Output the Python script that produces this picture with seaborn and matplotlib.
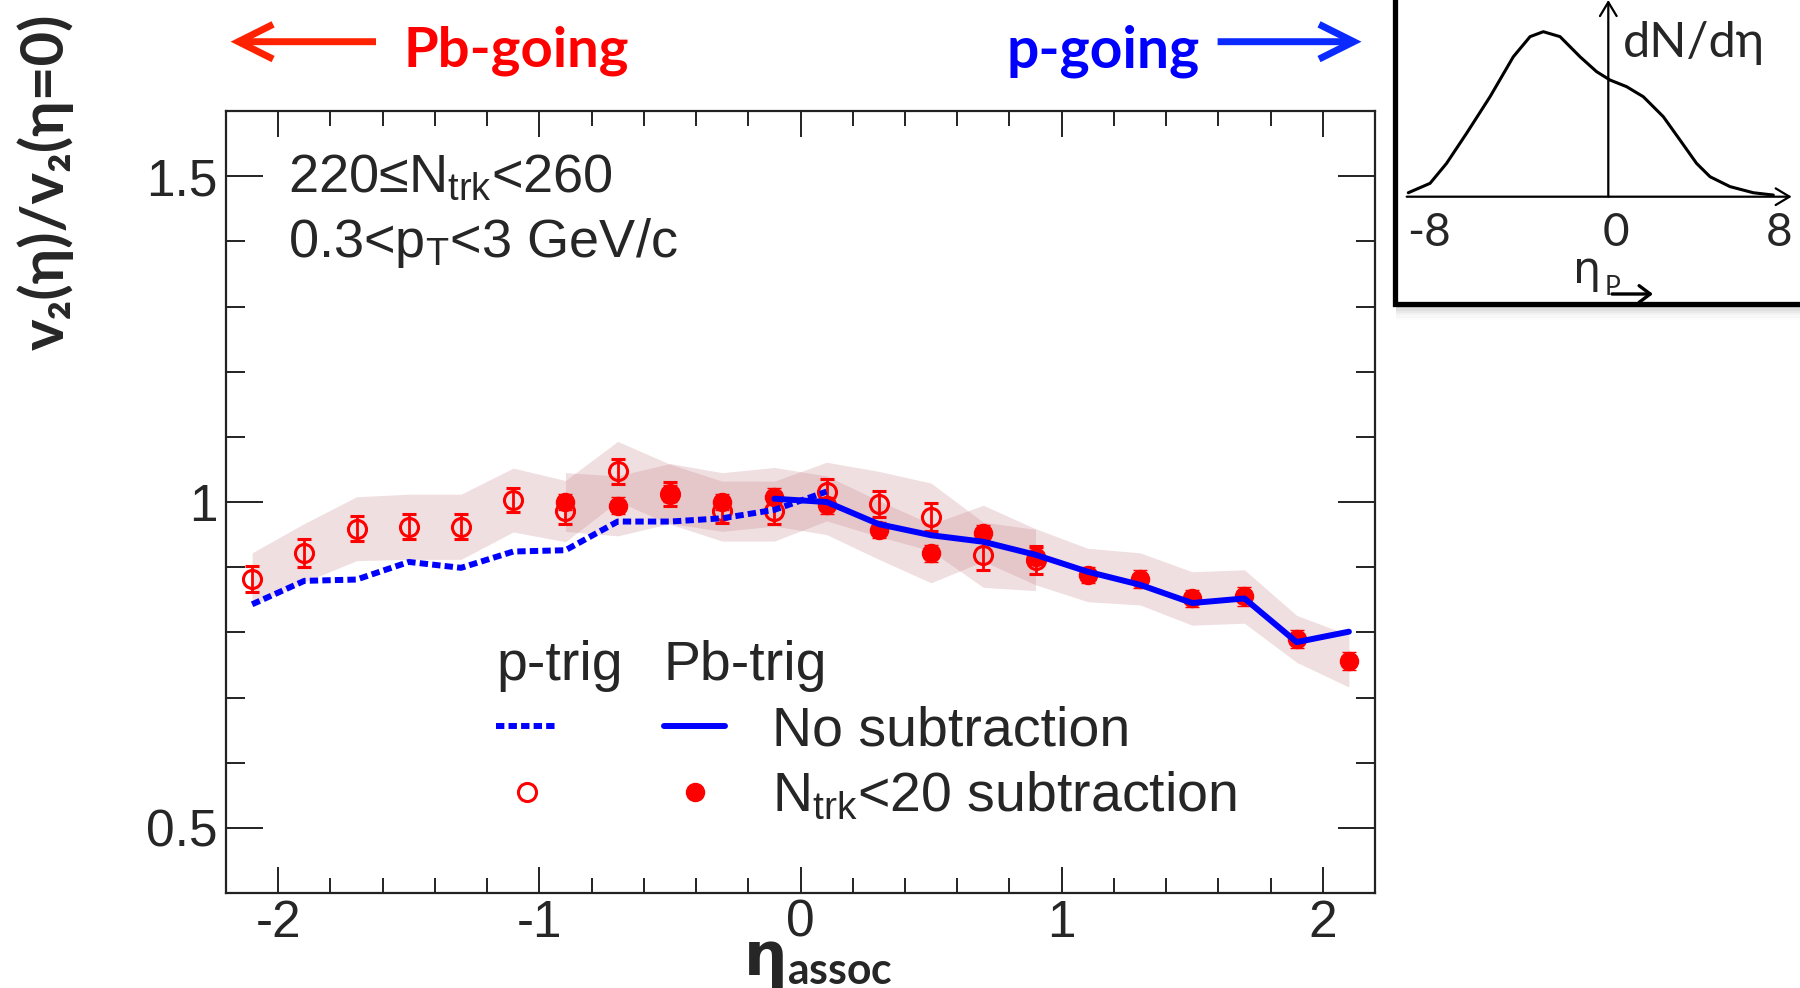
import numpy as np
import pandas as pd
import matplotlib
matplotlib.use("Agg")
import matplotlib.pyplot as plt
import seaborn as sns
from matplotlib.lines import Line2D
from matplotlib.patches import Rectangle, FancyArrowPatch
from matplotlib.ticker import MultipleLocator, FixedLocator, FixedFormatter

# ---------------- data ----------------
eta_p = [-2.1, -1.9, -1.7, -1.5, -1.3, -1.1, -0.9, -0.7, -0.5, -0.3, -0.1, 0.1, 0.3, 0.5, 0.7, 0.9]
p_sub = [0.882, 0.922, 0.959, 0.962, 0.962, 1.003, 0.986, 1.047, 1.012, 0.986, 0.986, 1.016, 0.997, 0.977, 0.919, 0.911]
p_stat = [0.020, 0.021, 0.019, 0.019, 0.019, 0.019, 0.020, 0.019, 0.018, 0.018, 0.019, 0.020, 0.020, 0.021, 0.023, 0.022]
p_sys = [0.040, 0.045, 0.049, 0.050, 0.050, 0.049, 0.047, 0.046, 0.046, 0.046, 0.046, 0.045, 0.050, 0.052, 0.050, 0.047]

eta_p_nosub = [-2.1, -1.9, -1.7, -1.5, -1.3, -1.1, -0.9, -0.7, -0.5, -0.3, -0.1, 0.1]
p_nosub = [0.843, 0.879, 0.881, 0.908, 0.899, 0.924, 0.926, 0.970, 0.970, 0.975, 0.988, 1.016]

eta_pb = [-0.9, -0.7, -0.5, -0.3, -0.1, 0.1, 0.3, 0.5, 0.7, 0.9, 1.1, 1.3, 1.5, 1.7, 1.9, 2.1]
pb_sub = [1.000, 0.994, 1.013, 1.000, 1.008, 0.995, 0.957, 0.921, 0.952, 0.916, 0.888, 0.882, 0.852, 0.855, 0.790, 0.756]
pb_stat = [0.013, 0.013, 0.013, 0.013, 0.013, 0.013, 0.013, 0.013, 0.013, 0.013, 0.013, 0.014, 0.013, 0.014, 0.014, 0.014]
pb_sys = [0.045, 0.046, 0.046, 0.045, 0.045, 0.045, 0.045, 0.045, 0.043, 0.043, 0.041, 0.040, 0.041, 0.041, 0.036, 0.040]

eta_pb_nosub = [-0.1, 0.1, 0.3, 0.5, 0.7, 0.9, 1.1, 1.3, 1.5, 1.7, 1.9, 2.1]
pb_nosub = [1.005, 1.000, 0.966, 0.949, 0.939, 0.919, 0.893, 0.873, 0.845, 0.852, 0.785, 0.801]

x_major = [-2, -1, 0, 1, 2]
x_major_labels = ["-2", "-1", "0", "1", "2"]
y_major = [0.5, 1.0, 1.5]
y_major_labels = ["0.5", "1", "1.5"]

# inset: schematic dN/deta vs eta
inset_eta = [-8.0, -7.13, -6.47, -5.67, -4.73, -3.8, -3.13, -2.6, -1.93, -1.13, -0.47, 0.07,
             0.73, 1.4, 2.2, 2.87, 3.53, 4.07, 4.87, 5.8, 6.6]
inset_dn = [0.024, 0.081, 0.202, 0.384, 0.606, 0.848, 0.970, 1.0, 0.970, 0.848, 0.758, 0.707,
            0.667, 0.606, 0.485, 0.343, 0.202, 0.121, 0.061, 0.024, 0.010]

# ---------------- style ----------------
sns.set_theme(style="ticks")
plt.rcParams['font.family'] = ['Liberation Sans', 'DejaVu Sans']
plt.rcParams['axes.unicode_minus'] = False
plt.rcParams['mathtext.fontset'] = 'custom'
plt.rcParams['mathtext.rm'] = 'Liberation Sans'
plt.rcParams['mathtext.it'] = 'Liberation Sans:italic'
plt.rcParams['mathtext.bf'] = 'DejaVu Sans:bold'
plt.rcParams['mathtext.sf'] = 'Lato:bold'

W, H = 1800, 988
fig = plt.figure(figsize=(18, 9.88), dpi=100, facecolor='white')

def fx(px):
    return px / W

def fy(py):
    return 1 - py / H

ax = fig.add_axes([fx(226), fy(893), (1375 - 226) / W, (893 - 111) / H])
ax.set_facecolor('white')

band_color = (0.75, 0.43, 0.47)
df_p = pd.DataFrame({'eta': eta_p, 'v': p_sub, 'stat': p_stat, 'sys': p_sys})
df_pb = pd.DataFrame({'eta': eta_pb, 'v': pb_sub, 'stat': pb_stat, 'sys': pb_sys})

ax.fill_between(df_p['eta'], df_p['v'] - df_p['sys'], df_p['v'] + df_p['sys'],
                color=band_color, alpha=0.22, lw=0, zorder=1)
ax.fill_between(df_pb['eta'], df_pb['v'] - df_pb['sys'], df_pb['v'] + df_pb['sys'],
                color=band_color, alpha=0.22, lw=0, zorder=1)

ax.errorbar(df_p['eta'], df_p['v'], yerr=df_p['stat'], fmt='o', ms=13, mfc='none',
            mec='red', mew=2.2, ecolor='red', elinewidth=2, capsize=5, capthick=2, zorder=3)
ax.errorbar(df_pb['eta'], df_pb['v'], yerr=df_pb['stat'], fmt='o', ms=13, mfc='red',
            mec='red', mew=1, ecolor='red', elinewidth=2, capsize=5, capthick=2, zorder=4)

dotted = (0, (1.4, 0.7))
sns.lineplot(x=eta_p_nosub, y=p_nosub, ax=ax, color='blue', lw=4.3, linestyle=dotted,
             estimator=None, sort=False, zorder=5)
sns.lineplot(x=eta_pb_nosub, y=pb_nosub, ax=ax, color='blue', lw=4.3,
             estimator=None, sort=False, zorder=5)

ax.set_xlim(-2.2, 2.2)
ax.set_ylim(0.4, 1.6)
ax.xaxis.set_major_locator(FixedLocator(x_major))
ax.xaxis.set_major_formatter(FixedFormatter(x_major_labels))
ax.yaxis.set_major_locator(FixedLocator(y_major))
ax.yaxis.set_major_formatter(FixedFormatter(y_major_labels))
ax.xaxis.set_minor_locator(MultipleLocator(0.2))
ax.yaxis.set_minor_locator(MultipleLocator(0.1))
ax.set_xlabel('')
ax.set_ylabel('')

tick_col = '#222222'
ax.tick_params(which='both', direction='in', top=True, right=True, color=tick_col, width=1.4)
ax.tick_params(axis='x', which='major', length=19, pad=4, labelsize=37)
ax.tick_params(axis='x', which='minor', length=10.5)
ax.tick_params(axis='y', which='major', length=26.5, pad=6, labelsize=37)
ax.tick_params(axis='y', which='minor', length=13.5)
for s in ax.spines.values():
    s.set_visible(True)
    s.set_linewidth(1.6)
    s.set_color(tick_col)

# text block
ax.text((288 - 226) / 1149, (893 - 192) / 782, '220\u2264N$_{\\mathrm{trk}}$<260',
        transform=ax.transAxes, fontsize=39, ha='left', va='baseline')
ax.text((288 - 226) / 1149, (893 - 257) / 782, '0.3<p$_{\\mathrm{T}}$<3 GeV/c',
        transform=ax.transAxes, fontsize=39, ha='left', va='baseline')

# legends
h_dot = Line2D([], [], color='blue', lw=4.3, ls=dotted)
h_open = Line2D([], [], ls='none', marker='o', ms=13, mfc='none', mec='red', mew=2.2)
h_solid = Line2D([], [], color='blue', lw=4.3)
h_fill = Line2D([], [], ls='none', marker='o', ms=13, mfc='red', mec='red')
labels_B = ['No subtraction', 'N$_{\\mathrm{trk}}$<20 subtraction']
leg_kw = dict(loc='upper left', frameon=False, fontsize=40, title_fontsize=40,
              handlelength=1.1, handletextpad=0.85, borderpad=0, borderaxespad=0,
              labelspacing=0.25, alignment='left')
top_y = (893 - 640) / 782
legA = ax.legend([h_dot, h_open], ['', ''], title='p-trig',
                 bbox_to_anchor=((496 - 226) / 1149, top_y), **leg_kw)
ax.add_artist(legA)
legB = ax.legend([h_solid, h_fill], labels_B, title='Pb-trig',
                 bbox_to_anchor=((664 - 226) / 1149, top_y), **leg_kw)

# axis titles
bold_fam = ['Lato', 'DejaVu Sans']
fig.text(fx(45), fy(182), 'v\u2082(\u03b7)/v\u2082(\u03b7=0)', rotation=90, ha='center', va='center',
         fontsize=43, fontweight='bold', family=bold_fam)
fig.text(fx(743), fy(975), '$\\mathbf{\\eta}_{\\mathsf{assoc}}$', ha='left', va='baseline',
         fontsize=44)

# direction labels
fig.text(fx(403), fy(67), 'Pb-going', color='#ff0000', fontsize=40.5, fontweight='bold',
         family=bold_fam, ha='left', va='baseline')
fig.text(fx(1007), fy(67), 'p-going', color='#0000ff', fontsize=41, fontweight='bold',
         family=bold_fam, ha='left', va='baseline')
for (x0, x1, col) in [(376, 230.6, '#ff2200'), (1217.6, 1361.5, '#0a2aff')]:
    arr = FancyArrowPatch((fx(x0), fy(41.7)), (fx(x1), fy(41.7)), transform=fig.transFigure,
                          arrowstyle='->,head_length=1.0,head_width=0.5', mutation_scale=25,
                          lw=5, color=col, shrinkA=0, shrinkB=0, capstyle='butt',
                          joinstyle='miter')
    fig.add_artist(arr)

# inset box with shadow
for i, a in enumerate([0.35, 0.25, 0.17, 0.10, 0.05, 0.02]):
    fig.add_artist(Rectangle((fx(1396), fy(306 + 2.3 * (i + 1))), 0.5, 2.3 / H,
                             transform=fig.transFigure, color='gray', alpha=a, lw=0, zorder=9))
fig.add_artist(Rectangle((fx(1394.5), fy(303.5)), 0.5, 0.5, transform=fig.transFigure,
                         fill=True, fc='white', ec='black', lw=3.8, zorder=10))

ax_in = fig.add_axes([fx(1398), fy(301), (1800 - 1398) / W, 300 / H], zorder=11)
ax_in.set_xlim((1398 - 1608.3) / 25, (1800 - 1608.3) / 25)
ax_in.set_ylim((196.7 - 301) / 165, (196.7 - 1) / 165)
ax_in.axis('off')
sns.lineplot(x=inset_eta, y=inset_dn, ax=ax_in, color='black', lw=2.2,
             estimator=None, sort=False)
ax_in.add_patch(FancyArrowPatch(((1406.7 - 1608.3) / 25, 0), ((1791.7 - 1608.3) / 25, 0),
                                arrowstyle='->,head_length=0.5,head_width=0.3', mutation_scale=20,
                                lw=1.6, color='black', shrinkA=0, shrinkB=0, clip_on=False))
ax_in.add_patch(FancyArrowPatch((0, 0), (0, 196.7 / 165), arrowstyle='->,head_length=0.5,head_width=0.3',
                                mutation_scale=20, lw=1.6, color='black', shrinkA=0, shrinkB=0,
                                clip_on=False))
reg_fam = ['Lato', 'DejaVu Sans']
for lab, px in [('-8', 1429), ('0', 1616), ('8', 1779)]:
    ax_in.text((px - 1608.3) / 25, (196.7 - 233) / 165, lab, ha='center', va='center',
               fontsize=33, family=reg_fam)
ax_in.text((1623 - 1608.3) / 25, (196.7 - 57) / 165, 'dN/d\u03b7', ha='left', va='baseline',
           fontsize=35, family=reg_fam)
ax_in.text((1573 - 1608.3) / 25, (196.7 - 283) / 165, '\u03b7', ha='left', va='baseline',
           fontsize=32, family=['DejaVu Sans'])
ax_in.text((1605 - 1608.3) / 25, (196.7 - 295) / 165, 'P', ha='left', va='baseline',
           fontsize=19, family=reg_fam)
ax_in.add_patch(FancyArrowPatch(((1612 - 1608.3) / 25, (196.7 - 294) / 165),
                                ((1653 - 1608.3) / 25, (196.7 - 294) / 165),
                                arrowstyle='->,head_length=0.4,head_width=0.3', mutation_scale=20,
                                lw=2.4, color='black', shrinkA=0, shrinkB=0, clip_on=False))

fig.savefig('out.png', dpi=100, facecolor='white')
